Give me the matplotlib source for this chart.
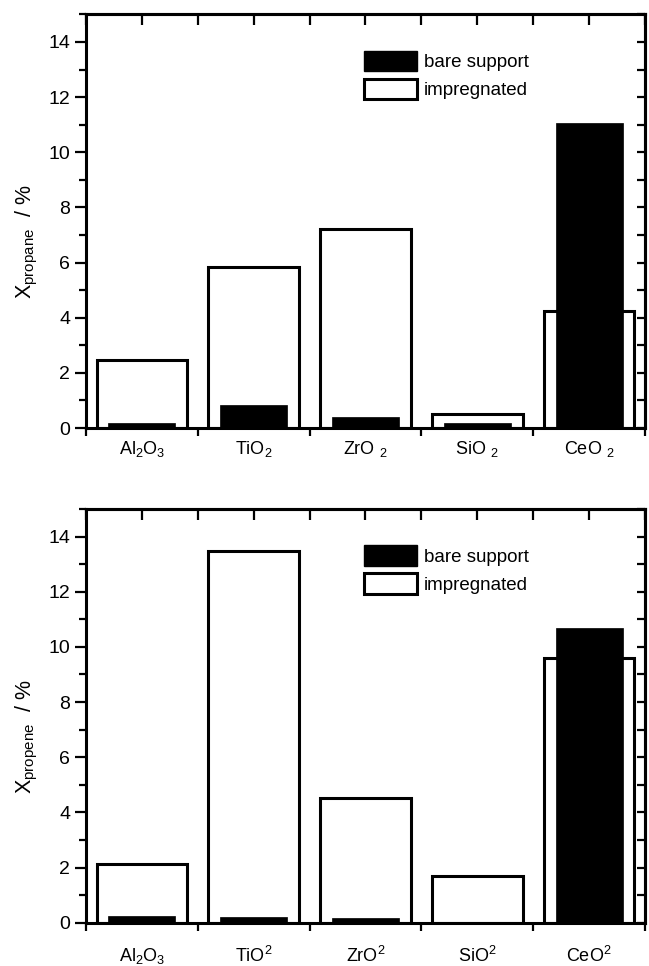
import matplotlib
matplotlib.use("Agg")
import matplotlib.pyplot as plt
from matplotlib.patches import Patch
import numpy as np

plt.rcParams["font.family"] = ["Liberation Sans", "DejaVu Sans"]
plt.rcParams["mathtext.fontset"] = "custom"
plt.rcParams["mathtext.rm"] = "Liberation Sans"
plt.rcParams["mathtext.it"] = "Liberation Sans:italic"
plt.rcParams["mathtext.bf"] = "Liberation Sans:bold"

# supports, in plotting order
labels_top = [r"Al$_2$O$_3$", r"TiO$_2$", r"ZrO $_2$", r"SiO $_2$", r"CeO $_2$"]
labels_bottom = [r"Al$_2$O$_3$", r"TiO$^2$", r"ZrO$^2$", r"SiO$^2$", r"CeO$^2$"]

# conversion of propane / %
propane_bare = [0.17, 0.83, 0.41, 0.17, 11.05]
propane_impr = [2.47, 5.85, 7.2, 0.5, 4.24]

# conversion of propene / %
propene_bare = [0.25, 0.2, 0.16, 0.0, 10.68]
propene_impr = [2.13, 13.46, 4.51, 1.7, 9.59]

lw = 2.2
fs = 14


def draw(ax, bare, impr, xlabels, ylabel, labelpad):
    x = np.arange(1, len(bare) + 1)
    ax.bar(x, impr, width=0.81, color="white", edgecolor="black", linewidth=lw,
           zorder=2, label="impregnated")
    ax.bar(x, bare, width=0.6, color="black", edgecolor="black", linewidth=0.5,
           zorder=3, label="bare support")
    ax.set_xlim(0.5, 5.5)
    ax.set_ylim(0, 15)

    # bottom: ticks on category borders, labels under the bars
    ax.set_xticks(np.arange(0.5, 5.6, 1.0))
    ax.set_xticklabels([])
    ax.set_xticks(x, minor=True)
    ax.set_xticklabels(xlabels, minor=True, fontsize=13)
    ax.tick_params(axis="x", which="major", direction="out", length=6, width=1.6)
    ax.tick_params(axis="x", which="minor", bottom=False, labelbottom=True,
                   pad=labelpad)

    ax.set_yticks(np.arange(0, 15, 2))
    ax.set_yticks(np.arange(0, 16, 1), minor=True)
    ax.tick_params(axis="y", which="major", direction="out", length=8, width=1.6,
                   labelsize=fs)
    ax.tick_params(axis="y", which="minor", direction="out", length=5, width=1.6)
    ax.set_ylabel(ylabel, fontsize=15.5)
    ax.yaxis.set_label_coords(-0.082, 0.45)

    for s in ax.spines.values():
        s.set_linewidth(lw)

    top = ax.secondary_xaxis("top")
    top.set_xticks(np.arange(0.5, 5.6, 0.5))
    top.tick_params(direction="in", length=8, width=1.6, labeltop=False)
    top.spines["top"].set_linewidth(lw)

    right = ax.secondary_yaxis("right")
    right.set_yticks(np.arange(0, 16, 1))
    right.tick_params(direction="in", length=6, width=1.6, labelright=False)
    right.spines["right"].set_linewidth(lw)

    handles = [Patch(facecolor="black", edgecolor="black", label="bare support"),
               Patch(facecolor="white", edgecolor="black", linewidth=lw,
                     label="impregnated")]
    ax.legend(handles=handles, loc="upper left", bbox_to_anchor=(0.497, 0.912),
              frameon=False, fontsize=13.5, handlelength=2.85, handleheight=1.3,
              handletextpad=0.35, labelspacing=0.4, borderpad=0, borderaxespad=0)


fig = plt.figure(figsize=(6.49, 9.66), dpi=100)
ax1 = fig.add_axes([0.1325, 0.5569, 0.8613, 0.4282])
ax2 = fig.add_axes([0.1325, 0.0448, 0.8613, 0.4283])

draw(ax1, propane_bare, propane_impr, labels_top,
     r"X$_{\mathrm{propane}}$  / %", 6)
draw(ax2, propene_bare, propene_impr, labels_bottom,
     r"X$_{\mathrm{propene}}$  / %", 15)

fig.savefig("out.png", dpi=100)
